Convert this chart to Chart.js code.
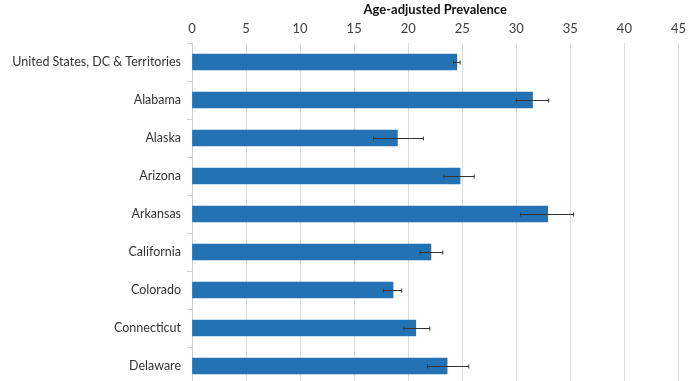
<!DOCTYPE html>
<html>
<head>
<meta charset="utf-8">
<script src="https://cdn.jsdelivr.net/npm/chart.js@4.4.0/dist/chart.umd.min.js"></script>
<style>
  html, body { margin: 0; padding: 0; background: #fff; overflow: hidden; }
  canvas { display: block; }
</style>
</head>
<body>
<canvas id="prevChart" width="692" height="385"></canvas>
<script>
const states = ['United States, DC & Territories', 'Alabama', 'Alaska', 'Arizona', 'Arkansas',
                'California', 'Colorado', 'Connecticut', 'Delaware'];
const prevalence = [24.5, 31.5, 19.0, 24.8, 32.9, 22.1, 18.6, 20.7, 23.6];
const ciLow  = [24.2, 30.0, 16.8, 23.3, 30.4, 21.1, 17.7, 19.6, 21.8];
const ciHigh = [24.8, 33.0, 21.4, 26.1, 35.3, 23.2, 19.4, 22.0, 25.6];

// error bars drawn through the scales
const errorBars = {
    id: 'errorBars',
    afterDatasetsDraw(chart) {
        const ctx = chart.ctx;
        const x = chart.scales.x;
        const y = chart.scales.y;
        ctx.save();
        ctx.strokeStyle = '#333';
        ctx.lineWidth = 1;
        states.forEach((s, i) => {
            const yc = Math.round(y.getPixelForValue(i)) + 0.5;
            const x1 = x.getPixelForValue(ciLow[i]);
            const x2 = x.getPixelForValue(ciHigh[i]);
            ctx.beginPath();
            ctx.moveTo(x1, yc); ctx.lineTo(x2, yc);
            ctx.moveTo(x1, yc - 2); ctx.lineTo(x1, yc + 2);
            ctx.moveTo(x2, yc - 2); ctx.lineTo(x2, yc + 2);
            ctx.stroke();
        });
        ctx.restore();
    }
};

Chart.defaults.font.family = 'Lato, "Open Sans", sans-serif';
Chart.defaults.font.size = 12;

new Chart(document.getElementById('prevChart'), {
    type: 'bar',
    data: {
        labels: states,
        datasets: [{
            data: prevalence,
            backgroundColor: '#2272b4',
            borderWidth: 0,
            barThickness: 16
        }]
    },
    options: {
        indexAxis: 'y',
        responsive: false,
        animation: false,
        layout: { padding: { top: 0, right: 8, left: 0, bottom: 0 } },
        plugins: {
            legend: { display: false },
            tooltip: { enabled: false }
        },
        scales: {
            x: {
                position: 'top',
                min: 0,
                max: 45,
                ticks: { stepSize: 5, color: '#404040', padding: 6, font: { size: 13 } },
                grid: { color: '#dcdcdc', drawTicks: false },
                border: { display: false },
                title: {
                    display: true,
                    text: 'Age-adjusted Prevalence',
                    color: '#111',
                    font: { weight: 'bold', size: 13 },
                    padding: { top: 2, bottom: 0 }
                },
                afterFit(scale) { scale.height = 43; }
            },
            y: {
                ticks: { color: '#333', padding: 6, font: { size: 12.5 } },
                grid: { drawOnChartArea: false, tickLength: 5, color: '#cfcfcf' },
                border: { display: true, color: '#cfcfcf' },
                afterFit(scale) {
                    scale.width = 192;
                    scale.paddingTop = 0;
                    scale.paddingBottom = 0;
                }
            }
        }
    },
    plugins: [errorBars]
});
</script>
</body>
</html>
